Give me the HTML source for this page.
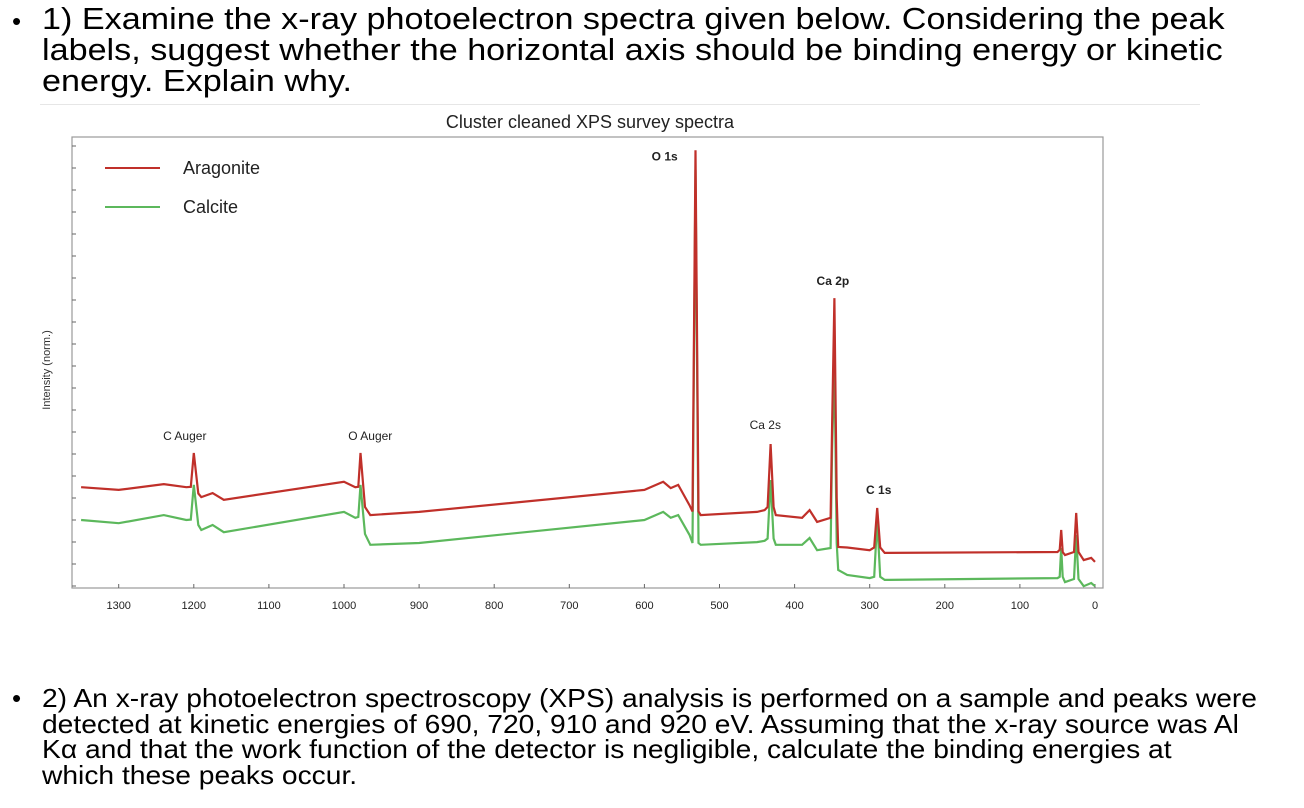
<!DOCTYPE html>
<html><head><meta charset="utf-8">
<style>
html,body{margin:0;padding:0;background:#fff;width:1304px;height:808px;overflow:hidden}
.q{position:absolute;left:42px;font-family:"Liberation Sans",sans-serif;color:#000;white-space:nowrap}
.b{position:absolute;left:12px;font-family:"Liberation Sans",sans-serif;font-size:26px}
svg text{font-family:"Liberation Sans",sans-serif}
</style></head><body>
<div class="b" style="top:6px">•</div>
<div class="q" id="q1" style="top:3px;font-size:31px;line-height:31px">1) Examine the x-ray photoelectron spectra given below. Considering the peak<br>labels, suggest whether the horizontal axis should be binding energy or kinetic<br>energy. Explain why.</div>
<div style="position:absolute;left:40px;top:104px;width:1160px;height:1px;background:#e6e6e6"></div>
<div class="b" style="top:683px">•</div>
<div class="q" id="q2" style="top:686px;font-size:26px;line-height:25.5px">2) An x-ray photoelectron spectroscopy (XPS) analysis is performed on a sample and peaks were<br>detected at kinetic energies of 690, 720, 910 and 920 eV. Assuming that the x-ray source was Al<br>Kα and that the work function of the detector is negligible, calculate the binding energies at<br>which these peaks occur.</div>
<svg id="chart" width="1304" height="808" style="position:absolute;left:0;top:0">
<text x="590" y="128" font-size="18" text-anchor="middle" fill="#222">Cluster cleaned XPS survey spectra</text>
<rect x="72" y="137" width="1031" height="451" fill="none" stroke="#999" stroke-width="1.2"/>
<text transform="translate(50,370) rotate(-90)" font-size="11" text-anchor="middle" fill="#333">Intensity (norm.)</text>
<line x1="105" y1="168" x2="160" y2="168" stroke="#c0302a" stroke-width="2"/>
<text x="183" y="174" font-size="18" fill="#222">Aragonite</text>
<line x1="105" y1="207" x2="160" y2="207" stroke="#5cb85c" stroke-width="2"/>
<text x="183" y="213" font-size="18" fill="#222">Calcite</text>
<g id="ticks"></g><g id="series"></g><g id="labels"></g>
</svg>
<script>
const xTicks=[1300,1200,1100,1000,900,800,700,600,500,400,300,200,100,0];
const energies=[1350,1300,1240,1210,1204,1200,1194,1190,1175,1160,1000,985,981,978,972,965,900,600,575,565,555,540,536,532,528,525,450,440,436,432,428,425,390,380,370,352,350,347,344,342,330,300,294,290,286,280,50,47,45,43,40,28,25,22,15,5,0];
const aragonite=[22.4,21.8,23.1,22.4,22.5,30,21,20.2,21.1,19.6,23.6,22.4,22.5,30,18,16.2,16.9,21.8,23.6,22.2,22.9,18.4,17,97.3,17,16.2,16.9,17.3,18,32,18,16.2,15.6,17.3,14.7,15.6,36.2,64.4,20,9.1,9,8.4,9,17.8,9,7.8,8,8.5,12.9,8,7.3,8,16.7,8,6.2,6.7,5.8];
const calcite=[15.1,14.4,16.2,15.1,15.2,22.9,14,12.9,14,12.4,16.9,15.6,15.8,22.9,12,9.6,10,15.1,16.9,15.6,16.2,11.8,10,92.9,10,9.6,10.2,10.5,11,24,11,9.6,9.6,11.1,8.4,8.9,30.7,50.7,10,4,2.9,2.2,2.5,15.1,2.5,1.8,2.2,2.5,8.9,2.5,1.3,2,11.8,2,0.4,1.1,0.4];
const peakLabels=["C Auger","O Auger","O 1s","Ca 2s","Ca 2p","C 1s"];
const peakEnergies=[1212,965,573,439,349,288];
const peakValues=[32.9,32.9,95,35.3,67.3,20.9];
const peakBold=[0,0,1,0,1,1];
const X=e=>1095-0.751*e, Y=v=>588-v*4.5;
const NS="http://www.w3.org/2000/svg";
const tg=document.getElementById('ticks');
xTicks.forEach(t=>{
 const l=document.createElementNS(NS,'line');
 l.setAttribute('x1',X(t));l.setAttribute('x2',X(t));l.setAttribute('y1',588);l.setAttribute('y2',584);l.setAttribute('stroke','#666');
 
 
 tg.appendChild(l);
 const tx=document.createElementNS(NS,'text');
 tx.setAttribute('x',X(t));tx.setAttribute('y',609);tx.setAttribute('font-size','11');tx.setAttribute('text-anchor','middle');tx.setAttribute('fill','#222');
 tx.textContent=t;
 
 
 tg.appendChild(tx);
});
for(let y=146;y<588;y+=22){
 const l=document.createElementNS(NS,'line');
 l.setAttribute('x1',72);l.setAttribute('x2',76);l.setAttribute('y1',y);l.setAttribute('y2',y);l.setAttribute('stroke','#666');
 
 
 tg.appendChild(l);
}
const sg=document.getElementById('series');
[[calcite,'#5cb85c','calcite-line'],[aragonite,'#c0302a','aragonite-line']].forEach(([vals,col,nm])=>{
 const p=document.createElementNS(NS,'polyline');
 p.setAttribute('points',energies.map((e,i)=>X(e).toFixed(1)+','+Y(vals[i]).toFixed(1)).join(' '));
 p.setAttribute('fill','none');p.setAttribute('stroke',col);p.setAttribute('stroke-width','2.2');
 
 
 sg.appendChild(p);
});
const lg=document.getElementById('labels');
peakLabels.forEach((s,i)=>{
 const tx=document.createElementNS(NS,'text');
 tx.setAttribute('x',X(peakEnergies[i]));tx.setAttribute('y',Y(peakValues[i]));
 tx.setAttribute('font-size','12');tx.setAttribute('fill','#222');tx.setAttribute('text-anchor','middle');
 if(peakBold[i])tx.setAttribute('font-weight','bold');
 tx.textContent=s;
 
 
 lg.appendChild(tx);
});
function fit(id,w){const el=document.getElementById(id);const r=el.scrollWidth;el.style.transformOrigin='0 0';el.style.transform='scaleX('+(w/r)+')';}
fit('q1',1183);fit('q2',1215);
</script>
</body></html>
